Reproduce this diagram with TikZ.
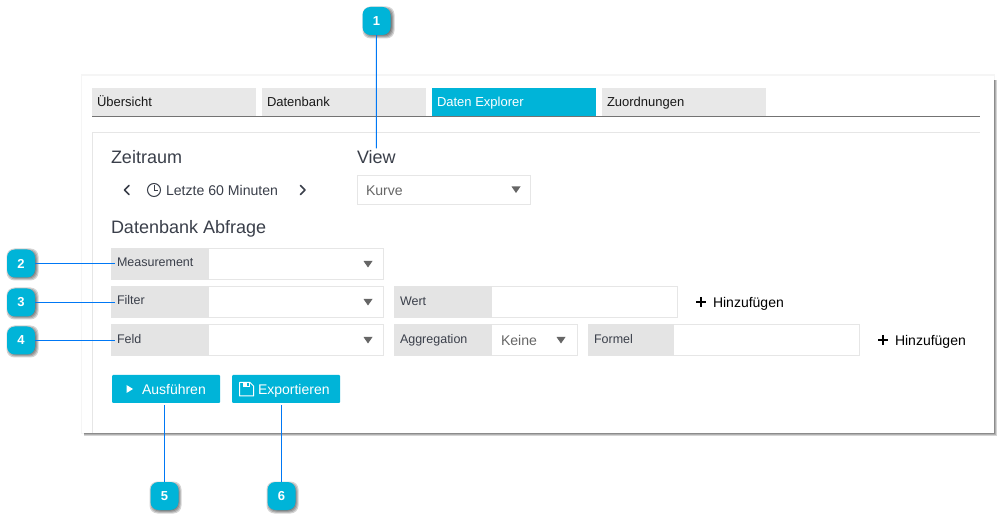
\documentclass[tikz,border=0pt]{standalone}
\usepackage{fontspec}
\setmainfont{Liberation Sans}
\definecolor{teal}{HTML}{00B4D8}
\definecolor{tabgray}{HTML}{E8E8E8}
\definecolor{lblgray}{HTML}{E4E4E4}
\definecolor{edge}{HTML}{E6E6E6}
\definecolor{linkblue}{HTML}{0078F5}
\definecolor{ink}{HTML}{3A3F4A}
\definecolor{mute}{HTML}{666666}
\newcommand{\fs}[1]{\fontsize{#1}{#1}\selectfont}
\newcommand{\softshadow}[5]{%
  \foreach \e in {3.5,2.5,1.5,0.5}
    \fill[black,opacity=.17,rounded corners=#5]
      ({#1-\e},{#2-\e}) rectangle ({#3+\e},{#4+\e});}
\newcommand{\ddarrow}[2]{\fill[mute] ({#1-4.5},{#2-3}) -- ({#1+4.5},{#2-3}) -- (#1,{#2+3.5}) -- cycle;}
\tikzset{
  box/.style={anchor=north west,inner sep=0pt,outer sep=0pt},
  tabgrey/.style={box,fill=tabgray},
  tabteal/.style={box,fill=teal},
  field/.style={box,fill=white,draw=edge,line width=1pt},
  labelbg/.style={box,fill=lblgray},
  btn/.style={box,fill=teal,rounded corners=1pt},
  badge/.style={fill=teal,rounded corners=8pt,minimum width=28pt,minimum height=28pt,inner sep=0pt,outer sep=0pt,text=white,font=\fs{13}\bfseries},
  txt/.style={anchor=base west,inner sep=0pt,outer sep=0pt},
  tabtxt/.style={txt,font=\fs{13},text=black!90},
  headtxt/.style={txt,font=\fs{18},text=ink},
  lbltxt/.style={txt,font=\fs{12.5},text=ink,inner xsep=2pt},
  valtxt/.style={txt,font=\fs{14.1},text=mute},
  addtxt/.style={txt,font=\fs{14},text=black},
  btntxt/.style={txt,font=\fs{14},text=white},
  conn/.style={draw=linkblue,line width=1pt},
  chev/.style={draw=ink,line width=1.6pt,line cap=round,line join=round},
  plusmark/.style={draw=black,line width=2pt},
}
\begin{document}
\begin{tikzpicture}[x=1pt,y=-1pt]
\useasboundingbox (0,0) rectangle (1002,521);
\fill[white] (0,0) rectangle (1002,521);

% card
\fill[black!4] (80.5,74.5) rectangle (995,434);
\foreach \e in {3,2,1,0}
  \fill[black,opacity=.17] ({84},{80}) rectangle ({993.5+\e},{432.5+\e});
\node[box,fill=white,minimum width=912pt,minimum height=357pt] (card) at (82,76) {};

% inner panel
\draw[edge,line width=1pt] (92.5,433) -- (92.5,132.5) -- (980,132.5);

% tabs
\node[tabgrey,minimum width=164pt,minimum height=28pt] (t1) at (92,88) {};
\node[tabgrey,minimum width=164pt,minimum height=28pt] (t2) at (262,88) {};
\node[tabteal,minimum width=164pt,minimum height=28pt] (t3) at (432,88) {};
\node[tabgrey,minimum width=164pt,minimum height=28pt] (t4) at (602,88) {};
\draw[black!55,line width=1pt] (92,116.5) -- (980,116.5);
\node[tabtxt] (t1x) at (97,106.5) {Übersicht};
\node[tabtxt] (t2x) at (267,106.5) {Datenbank};
\node[tabtxt,text=white] (t3x) at (437,106.5) {Daten Explorer};
\node[tabtxt] (t4x) at (607,106.5) {Zuordnungen};

% headings
\node[headtxt] (zeit) at (111,163.5) {Zeitraum};
\node[headtxt,inner ysep=2pt] (view) at (357,163.5) {View};
\node[headtxt] (abfrage) at (111,233.5) {Datenbank Abfrage};

% time range
\draw[chev] (129,185.5) -- (124.5,190) -- (129,194.5);
\draw[chev] (300.5,185.5) -- (305,190) -- (300.5,194.5);
\draw[ink,line width=1pt] (154,190) circle (6.5);
\draw[ink,line width=1pt] (154,185.5) -- (154,190.5) -- (158,190.5);
\node[valtxt,text=ink] (letzte) at (166,195.5) {Letzte 60 Minuten};

% view dropdown
\node[field,minimum width=173pt,minimum height=29pt] (kurvebox) at (357.5,175.5) {};
\node[valtxt] (kurve) at (366,195.5) {Kurve};
\ddarrow{516}{189.5}

% query rows
\node[field,minimum width=272pt,minimum height=31pt] (mbox) at (111.5,248.5) {};
\node[labelbg,minimum width=98pt,minimum height=32pt] (mlab) at (111,248) {};
\node[lbltxt] (m) at (115,267) {Measurement};
\ddarrow{368}{264}
\node[field,minimum width=272pt,minimum height=31pt] (fbox) at (111.5,286.5) {};
\node[labelbg,minimum width=98pt,minimum height=32pt] (flab) at (111,286) {};
\node[lbltxt] (f) at (115,305) {Filter};
\ddarrow{368}{302}
\node[field,minimum width=272pt,minimum height=31pt] (gbox) at (111.5,324.5) {};
\node[labelbg,minimum width=98pt,minimum height=32pt] (glab) at (111,324) {};
\node[lbltxt] (g) at (115,343.5) {Feld};
\ddarrow{368}{340}

\node[field,minimum width=283pt,minimum height=31pt] (wbox) at (394.5,286.5) {};
\node[labelbg,minimum width=98pt,minimum height=32pt] (wlab) at (394,286) {};
\node[lbltxt] (w) at (398,305.5) {Wert};

\node[field,minimum width=183pt,minimum height=31pt] (abox) at (394.5,324.5) {};
\node[labelbg,minimum width=98pt,minimum height=32pt] (alab) at (394,324) {};
\node[lbltxt] (a) at (398,343.5) {Aggregation};
\node[valtxt] (keine) at (501,345.5) {Keine};
\ddarrow{561}{340}

\node[field,minimum width=271pt,minimum height=31pt] (ebox) at (588.5,324.5) {};
\node[labelbg,minimum width=86pt,minimum height=32pt] (elab) at (588,324) {};
\node[lbltxt] (e) at (592,343.5) {Formel};

% add buttons
\draw[plusmark] (696,302) -- (706,302) (701,297) -- (701,307);
\node[addtxt] (add1) at (713,307.5) {Hinzufügen};
\draw[plusmark] (878,340) -- (888,340) (883,335) -- (883,345);
\node[addtxt] (add2) at (895,345.5) {Hinzufügen};

% action buttons
\node[btn,minimum width=108pt,minimum height=28pt] (run) at (112,375) {};
\fill[white] (126.5,385) -- (133,389) -- (126.5,393) -- cycle;
\node[btntxt] (runx) at (142,394.5) {Ausführen};
\node[btn,minimum width=108pt,minimum height=28pt] (exp) at (232,375) {};
\draw[white,line width=1pt,line join=round] (239.5,382.5) -- (250,382.5) -- (253.5,386) -- (253.5,396) -- (239.5,396) -- cycle;
\fill[white] (243,382.5) rectangle (250,387);
\fill[teal] (247,383.5) rectangle (248.5,386);
\node[btntxt] (expx) at (258,394.5) {Exportieren};

% callouts
\softshadow{366}{10}{391}{35}{8pt}
\softshadow{10}{252}{35}{277}{8pt}
\softshadow{10}{291}{35}{316}{8pt}
\softshadow{10}{329}{35}{354}{8pt}
\softshadow{153}{485}{178}{510}{8pt}
\softshadow{270}{485}{295}{510}{8pt}
\node[badge] (b1) at (376.5,21) {1};
\node[badge] (b2) at (21,263.5) {2};
\node[badge] (b3) at (21,302.5) {3};
\node[badge] (b4) at (21,340.5) {4};
\node[badge] (b5) at (164.5,496) {5};
\node[badge] (b6) at (281.5,496) {6};

\coordinate (tip5) at (164.5,405);
\coordinate (tip6) at (281.5,405);
\draw[conn] (b1.south) -- (view.north);
\draw[conn] (b2.east) -- (b2.east -| m.west);
\draw[conn] (b3.east) -- (b3.east -| f.west);
\draw[conn] (b4.east) -- (b4.east -| g.west);
\draw[conn] (b5.north) -- (tip5);
\draw[conn] (b6.north) -- (tip6);
\end{tikzpicture}
\end{document}
